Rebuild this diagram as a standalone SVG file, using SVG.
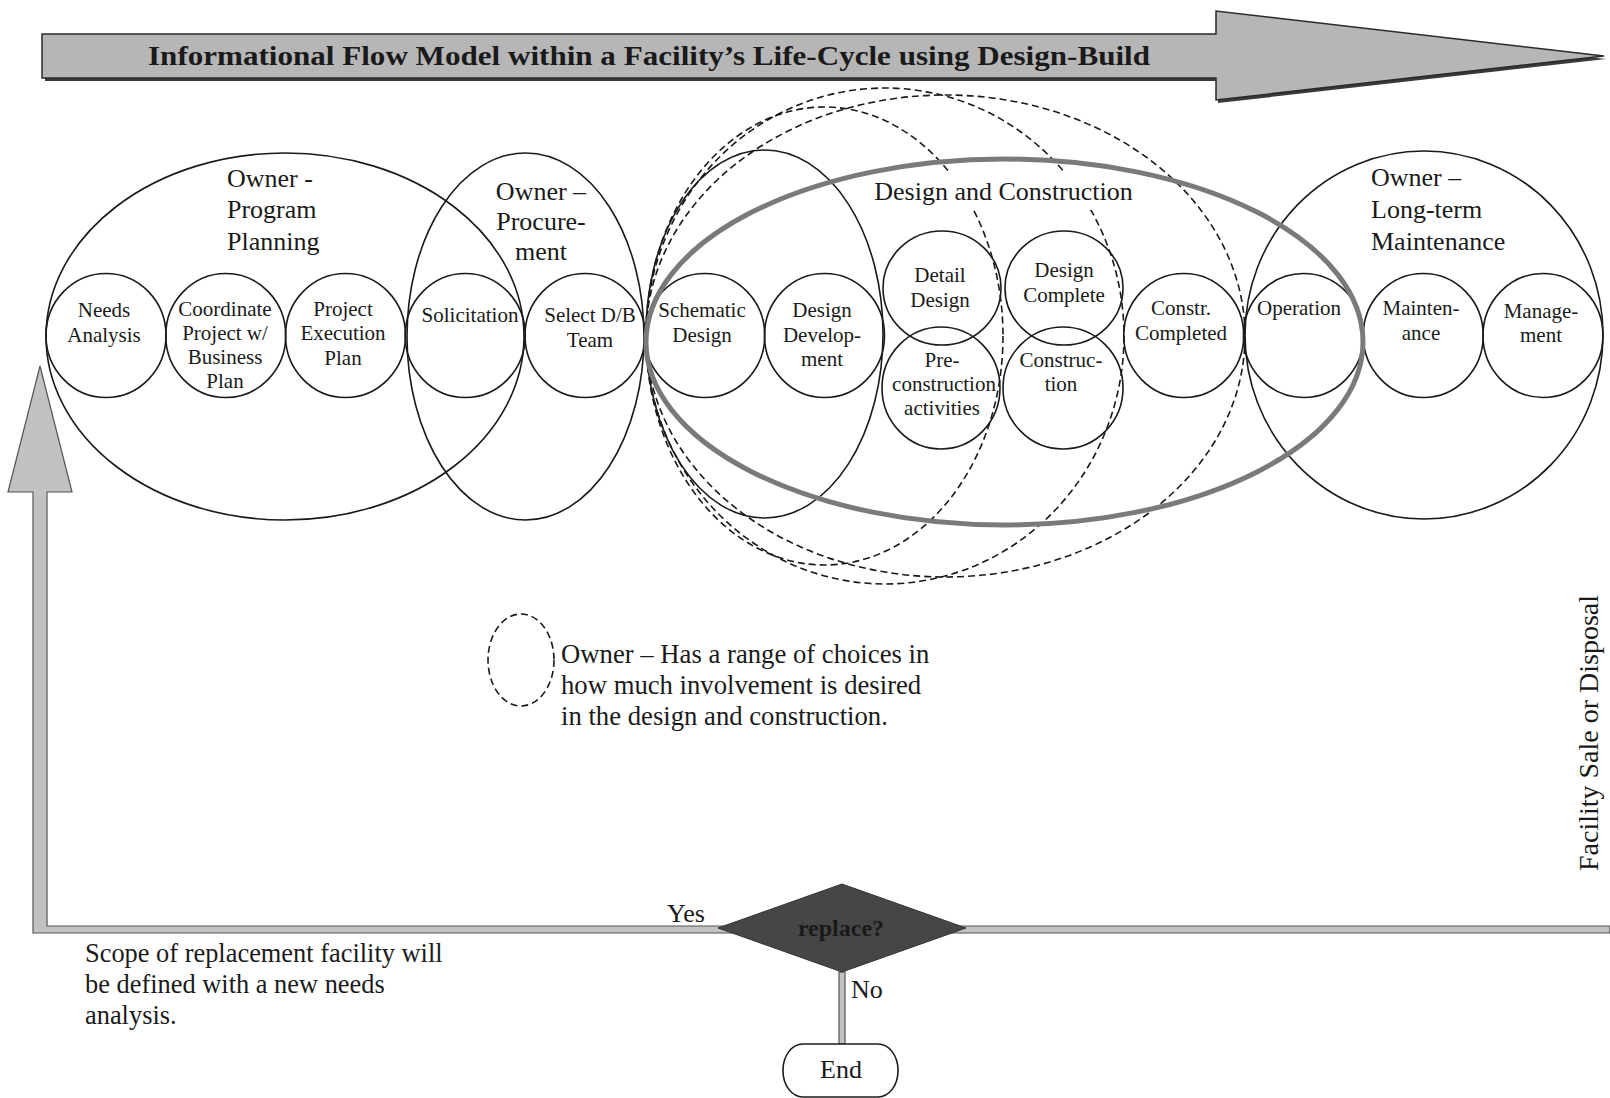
<svg xmlns="http://www.w3.org/2000/svg" width="1610" height="1098" viewBox="0 0 1610 1098">
<style>
text{font-family:"Liberation Serif","Times New Roman",serif;fill:#1a1a1a}
.c{text-anchor:middle;font-size:21px}
.g{font-size:26px}
.gm{font-size:26px;text-anchor:middle}
.ln{fill:none;stroke:#1a1a1a;stroke-width:1.6}
.dash{fill:none;stroke:#1a1a1a;stroke-width:1.6;stroke-dasharray:7 4}
.thick{fill:none;stroke:#7a7a7a;stroke-width:5}
.band{fill:#c2c2c2;stroke:#555;stroke-width:1.2}
</style>

<g id="title-arrow">
  <polygon points="45,37 1218,37 1218,14 1606,59 1218,103 1218,81 45,81" fill="#3a3a3a"/>
  <polygon points="42,34 1216,34 1216,11 1604,56 1216,100 1216,78 42,78" fill="#b6b6b6" stroke="#2a2a2a" stroke-width="1.5"/>
  <text x="148" y="65" font-size="28" font-weight="bold" textLength="1002" lengthAdjust="spacingAndGlyphs" fill="#1e1e1e">Informational Flow Model within a Facility’s Life-Cycle using Design-Build</text>
</g>

<g id="owner-involvement-range">
  <ellipse class="dash" cx="824.5" cy="336" rx="178.5" ry="229"/>
  <ellipse class="dash" cx="885" cy="336" rx="239" ry="248"/>
  <ellipse class="dash" cx="945.5" cy="336" rx="299.5" ry="241"/>
</g>

<g id="design-construction">
  <rect x="860" y="173" width="287" height="37" fill="#fff"/>
  <text class="gm" x="1003.5" y="200" font-size="26.5">Design and Construction</text>
</g>

<g id="program-planning">
  <ellipse class="ln" cx="285" cy="336.5" rx="239" ry="183.5"/>
  <text class="g" x="227" y="187">Owner -</text>
  <text class="g" x="227" y="218">Program</text>
  <text class="g" x="227" y="250">Planning</text>
</g>

<g id="procurement">
  <ellipse class="ln" cx="525.5" cy="336.5" rx="118.5" ry="183.5"/>
  <text class="gm" x="541" y="200">Owner –</text>
  <text class="gm" x="541" y="230">Procure-</text>
  <text class="gm" x="541" y="260">ment</text>
</g>

<g id="design-group">
  <ellipse class="ln" cx="764.5" cy="334" rx="118.5" ry="184"/>
</g>

<g id="long-term-maintenance">
  <ellipse class="ln" cx="1424" cy="335" rx="179" ry="184"/>
  <text class="g" x="1371" y="186">Owner –</text>
  <text class="g" x="1371" y="218">Long-term</text>
  <text class="g" x="1371" y="250">Maintenance</text>
</g>

<g id="needs-analysis">
  <ellipse class="ln" cx="106" cy="335.5" rx="60" ry="62"/>
  <text class="c" x="104" y="317">Needs</text>
  <text class="c" x="104" y="342">Analysis</text>
</g>
<g id="coordinate">
  <ellipse class="ln" cx="225.75" cy="335.5" rx="60" ry="62"/>
  <text class="c" x="225" y="316">Coordinate</text>
  <text class="c" x="225" y="340">Project w/</text>
  <text class="c" x="225" y="364">Business</text>
  <text class="c" x="225" y="388">Plan</text>
</g>
<g id="project-execution">
  <ellipse class="ln" cx="345.5" cy="335.5" rx="60" ry="62"/>
  <text class="c" x="343" y="316">Project</text>
  <text class="c" x="343" y="340">Execution</text>
  <text class="c" x="343" y="365">Plan</text>
</g>
<g id="solicitation">
  <ellipse class="ln" cx="465.25" cy="335.5" rx="60" ry="62"/>
  <text class="c" x="470" y="322">Solicitation</text>
</g>
<g id="select-db">
  <ellipse class="ln" cx="585" cy="335.5" rx="60" ry="62"/>
  <text class="c" x="590" y="322">Select D/B</text>
  <text class="c" x="590" y="347">Team</text>
</g>
<g id="schematic-design">
  <ellipse class="ln" cx="704.75" cy="335.5" rx="60" ry="62"/>
  <text class="c" x="702" y="317">Schematic</text>
  <text class="c" x="702" y="342">Design</text>
</g>
<g id="design-development">
  <ellipse class="ln" cx="824.5" cy="335.5" rx="60" ry="62"/>
  <text class="c" x="822" y="317">Design</text>
  <text class="c" x="822" y="342">Develop-</text>
  <text class="c" x="822" y="366">ment</text>
</g>
<g id="detail-design">
  <ellipse class="ln" cx="942" cy="288" rx="59" ry="57"/>
  <text class="c" x="940" y="282">Detail</text>
  <text class="c" x="940" y="307">Design</text>
</g>
<g id="pre-construction">
  <ellipse class="ln" cx="941" cy="388" rx="59" ry="61"/>
  <text class="c" x="942" y="367">Pre-</text>
  <text class="c" x="944" y="391">construction</text>
  <text class="c" x="942" y="415">activities</text>
</g>
<g id="design-complete">
  <ellipse class="ln" cx="1064" cy="288" rx="59" ry="57"/>
  <text class="c" x="1064" y="277">Design</text>
  <text class="c" x="1064" y="302">Complete</text>
</g>
<g id="construction">
  <ellipse class="ln" cx="1063" cy="388" rx="60" ry="61"/>
  <text class="c" x="1061" y="367">Construc-</text>
  <text class="c" x="1061" y="391">tion</text>
</g>
<g id="constr-completed">
  <ellipse class="ln" cx="1183.75" cy="335.5" rx="60" ry="62"/>
  <text class="c" x="1181" y="315">Constr.</text>
  <text class="c" x="1181" y="340">Completed</text>
</g>
<g id="operation">
  <ellipse class="ln" cx="1303.5" cy="335.5" rx="60" ry="62"/>
  <text class="c" x="1299" y="315">Operation</text>
</g>
<g id="maintenance">
  <ellipse class="ln" cx="1423.25" cy="335.5" rx="60" ry="62"/>
  <text class="c" x="1421" y="315">Mainten-</text>
  <text class="c" x="1421" y="340">ance</text>
</g>
<g id="management">
  <ellipse class="ln" cx="1543" cy="335.5" rx="60" ry="62"/>
  <text class="c" x="1541" y="318">Manage-</text>
  <text class="c" x="1541" y="342">ment</text>
</g>

<g id="design-construction-outline">
  <ellipse class="thick" cx="1004.5" cy="342" rx="358.5" ry="183"/>
</g>

<g id="legend">
  <ellipse class="dash" cx="521" cy="660" rx="33" ry="46"/>
  <text x="561" y="663" font-size="26.7">Owner – Has a range of choices in</text>
  <text x="561" y="694" font-size="26.7">how much involvement is desired</text>
  <text x="561" y="725" font-size="26.7">in the design and construction.</text>
</g>

<g id="connectors">
  <polygon class="band" points="40,366 72,492 47,492 47,926 1610,926 1610,933 33,933 33,492 8,492"/>
  <rect class="band" x="839" y="972" width="6" height="72"/>
  <text class="g" x="667" y="922">Yes</text>
  <text class="g" x="851" y="998">No</text>
</g>

<g id="replace-decision">
  <polygon points="718,928 842,884 966,928 842,972" fill="#464646" stroke="#333" stroke-width="1"/>
  <text x="841" y="936" font-size="24" font-weight="bold" text-anchor="middle" fill="#161616">replace?</text>
</g>

<g id="end">
  <rect x="783" y="1044" width="115" height="53" rx="20" ry="26" fill="#fff" stroke="#1a1a1a" stroke-width="1.6"/>
  <text class="gm" x="841" y="1078">End</text>
</g>

<g id="scope-note">
  <text x="85" y="962" font-size="26.4">Scope of replacement facility will</text>
  <text x="85" y="993" font-size="26.4">be defined with a new needs</text>
  <text x="85" y="1024" font-size="26.4">analysis.</text>
</g>

<g id="facility-sale">
  <text x="1598" y="733" font-size="28" text-anchor="middle" transform="rotate(-90 1598 733)">Facility Sale or Disposal</text>
</g>
</svg>
